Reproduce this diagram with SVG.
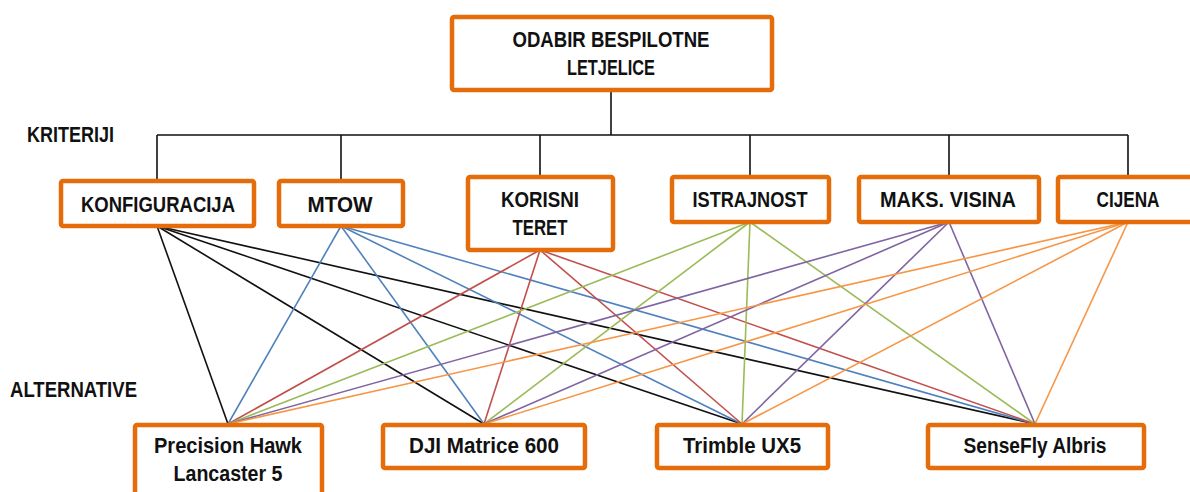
<svg xmlns="http://www.w3.org/2000/svg" width="1190" height="492" viewBox="0 0 1190 492">
<style>
.box{fill:#fff;stroke:#E46C0A;stroke-width:4.5}
.t{font-family:"Liberation Sans",Arial,sans-serif;font-weight:bold;font-size:22px;fill:#111;text-anchor:middle}
.lbl{font-family:"Liberation Sans",Arial,sans-serif;font-weight:bold;font-size:22px;fill:#111}
.tree{fill:none;stroke:#111;stroke-width:1.6}
.k{stroke:#111;stroke-width:1.6}
.m{stroke:#4F81BD;stroke-width:1.6}
.r{stroke:#C0504D;stroke-width:1.6}
.g{stroke:#9BBB59;stroke-width:1.6}
.p{stroke:#8064A2;stroke-width:1.6}
.o{stroke:#F79646;stroke-width:1.6}
</style>
<rect width="1190" height="492" fill="#fff"/>
<g id="connectors">
<path class="tree" d="M611,90 V135 M157,135 H1128 M157,135 V181 M341,135 V181 M540,135 V177 M750,135 V177 M949,135 V177 M1128,135 V177"/>
<g id="c-konf">
<line class="k" x1="157" y1="226" x2="228" y2="424"/>
<line class="k" x1="157" y1="226" x2="484" y2="424"/>
<line class="k" x1="157" y1="226" x2="742" y2="424"/>
<line class="k" x1="157" y1="226" x2="1035" y2="424"/>
</g>
<g id="c-mtow">
<line class="m" x1="341" y1="226" x2="228" y2="424"/>
<line class="m" x1="341" y1="226" x2="484" y2="424"/>
<line class="m" x1="341" y1="226" x2="742" y2="424"/>
<line class="m" x1="341" y1="226" x2="1035" y2="424"/>
</g>
<g id="c-kor">
<line class="r" x1="540" y1="250" x2="228" y2="424"/>
<line class="r" x1="540" y1="250" x2="484" y2="424"/>
<line class="r" x1="540" y1="250" x2="742" y2="424"/>
<line class="r" x1="540" y1="250" x2="1035" y2="424"/>
</g>
<g id="c-ist">
<line class="g" x1="750" y1="222" x2="228" y2="424"/>
<line class="g" x1="750" y1="222" x2="484" y2="424"/>
<line class="g" x1="750" y1="222" x2="742" y2="424"/>
<line class="g" x1="750" y1="222" x2="1035" y2="424"/>
</g>
<g id="c-maks">
<line class="p" x1="949" y1="222" x2="228" y2="424"/>
<line class="p" x1="949" y1="222" x2="484" y2="424"/>
<line class="p" x1="949" y1="222" x2="742" y2="424"/>
<line class="p" x1="949" y1="222" x2="1035" y2="424"/>
</g>
<g id="c-cij">
<line class="o" x1="1128" y1="222" x2="228" y2="424"/>
<line class="o" x1="1128" y1="222" x2="484" y2="424"/>
<line class="o" x1="1128" y1="222" x2="742" y2="424"/>
<line class="o" x1="1128" y1="222" x2="1035" y2="424"/>
</g>
</g>
<g id="goal">
<rect class="box" x="452" y="17" width="320" height="73" rx="2"/>
<text class="t" x="611" y="47" textLength="197" lengthAdjust="spacingAndGlyphs">ODABIR BESPILOTNE</text>
<text class="t" x="611" y="75" textLength="88" lengthAdjust="spacingAndGlyphs">LETJELICE</text>
</g>
<text id="kriteriji" class="lbl" x="27" y="142" textLength="87" lengthAdjust="spacingAndGlyphs">KRITERIJI</text>
<text id="alternative" class="lbl" x="10" y="397" textLength="127" lengthAdjust="spacingAndGlyphs">ALTERNATIVE</text>
<g id="konfiguracija">
<rect class="box" x="61" y="181" width="193" height="45" rx="2"/>
<text class="t" x="158" y="212" textLength="154" lengthAdjust="spacingAndGlyphs">KONFIGURACIJA</text>
</g>
<g id="mtow">
<rect class="box" x="279" y="181" width="124" height="45" rx="2"/>
<text class="t" x="340" y="212" textLength="65" lengthAdjust="spacingAndGlyphs">MTOW</text>
</g>
<g id="korisni">
<rect class="box" x="468" y="177" width="145" height="73" rx="2"/>
<text class="t" x="540" y="207" textLength="78" lengthAdjust="spacingAndGlyphs">KORISNI</text>
<text class="t" x="540" y="235" textLength="55" lengthAdjust="spacingAndGlyphs">TERET</text>
</g>
<g id="istrajnost">
<rect class="box" x="672" y="177" width="157" height="45" rx="2"/>
<text class="t" x="750" y="207" textLength="115" lengthAdjust="spacingAndGlyphs">ISTRAJNOST</text>
</g>
<g id="maks">
<rect class="box" x="859" y="177" width="180" height="45" rx="2"/>
<text class="t" x="948" y="207" textLength="136" lengthAdjust="spacingAndGlyphs">MAKS. VISINA</text>
</g>
<g id="cijena">
<rect class="box" x="1058" y="177" width="140" height="45" rx="2"/>
<text class="t" x="1128" y="207" textLength="63" lengthAdjust="spacingAndGlyphs">CIJENA</text>
</g>
<g id="precision">
<rect class="box" x="135" y="425" width="187" height="80" rx="2"/>
<text class="t" x="228" y="453" textLength="148" lengthAdjust="spacingAndGlyphs">Precision Hawk</text>
<text class="t" x="228" y="481" textLength="109" lengthAdjust="spacingAndGlyphs">Lancaster 5</text>
</g>
<g id="dji">
<rect class="box" x="383" y="425" width="202" height="43" rx="2"/>
<text class="t" x="484" y="453" textLength="150" lengthAdjust="spacingAndGlyphs">DJI Matrice 600</text>
</g>
<g id="trimble">
<rect class="box" x="657" y="425" width="171" height="43" rx="2"/>
<text class="t" x="742" y="453" textLength="118" lengthAdjust="spacingAndGlyphs">Trimble UX5</text>
</g>
<g id="sensefly">
<rect class="box" x="928" y="425" width="216" height="43" rx="2"/>
<text class="t" x="1035" y="453" textLength="143" lengthAdjust="spacingAndGlyphs">SenseFly Albris</text>
</g>
</svg>
